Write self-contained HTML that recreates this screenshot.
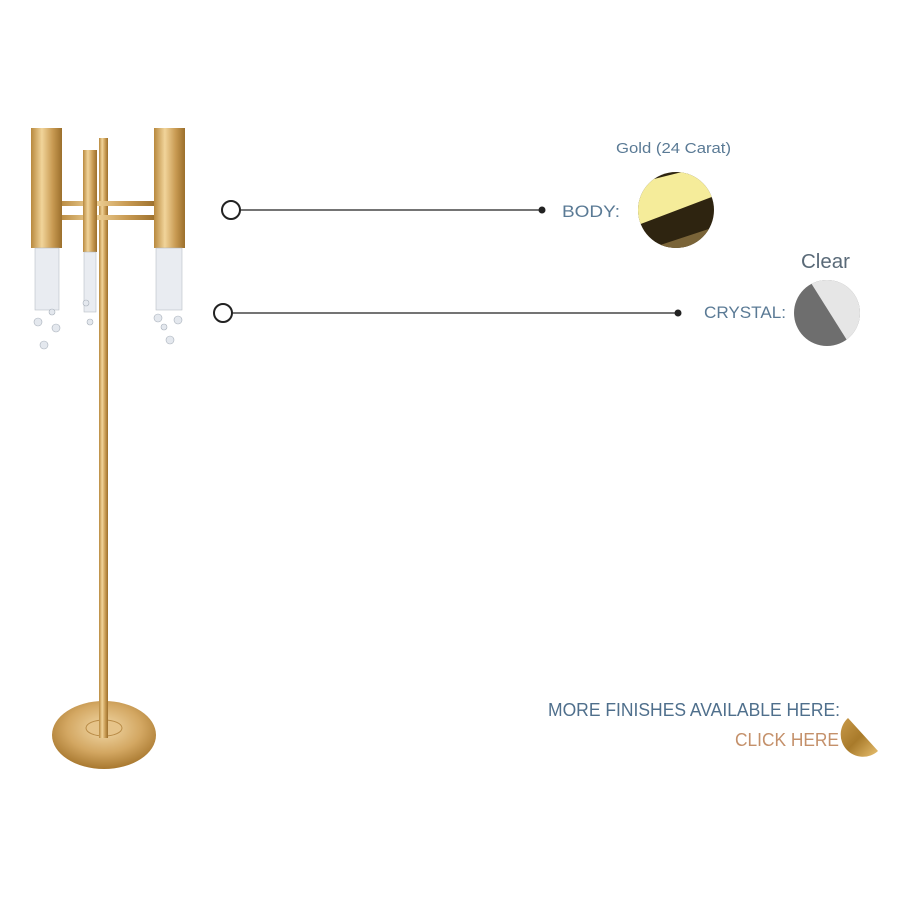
<!DOCTYPE html>
<html><head><style>body{margin:0;background:#fff}svg{display:block}text{font-family:"Liberation Sans",sans-serif}</style></head><body>
<svg width="900" height="900" viewBox="0 0 900 900">
<defs>
<linearGradient id="g" x1="0" x2="1"><stop offset="0" stop-color="#b8893e"/><stop offset=".35" stop-color="#f1d49a"/><stop offset=".7" stop-color="#c89a52"/><stop offset="1" stop-color="#9b6f2c"/></linearGradient>
<radialGradient id="b" cx=".5" cy=".4" r=".6"><stop offset="0" stop-color="#f2d9a8"/><stop offset=".6" stop-color="#d3a762"/><stop offset="1" stop-color="#a8782f"/></radialGradient>
<clipPath id="c1"><circle cx="676" cy="210" r="38"/></clipPath>
<clipPath id="c2"><circle cx="827" cy="313" r="33"/></clipPath>
<linearGradient id="cg" x1="0" y1="0" x2="1" y2="1"><stop offset="0" stop-color="#c99a4a"/><stop offset=".5" stop-color="#a87a2a"/><stop offset="1" stop-color="#e8c070"/></linearGradient>
</defs>
<ellipse cx="104" cy="735" rx="52" ry="34" fill="url(#b)"/>
<ellipse cx="104" cy="728" rx="18" ry="8" fill="#e6c48a" stroke="#b88a45"/>
<rect x="99" y="138" width="9" height="600" fill="url(#g)"/>
<rect x="60" y="201" width="96" height="5" fill="url(#g)"/>
<rect x="60" y="215" width="96" height="5" fill="url(#g)"/>
<rect x="31" y="128" width="31" height="120" fill="url(#g)"/>
<rect x="83" y="150" width="14" height="102" fill="url(#g)"/>
<rect x="154" y="128" width="31" height="120" fill="url(#g)"/>
<g fill="#e4e8ee" stroke="#a8b0ba" stroke-width=".6">
<rect x="35" y="248" width="24" height="62" opacity=".8"/>
<rect x="84" y="252" width="12" height="60" opacity=".8"/>
<rect x="156" y="248" width="26" height="62" opacity=".8"/>
<circle cx="44" cy="345" r="4"/><circle cx="38" cy="322" r="4"/><circle cx="56" cy="328" r="4"/><circle cx="52" cy="312" r="3"/>
<circle cx="90" cy="322" r="3"/><circle cx="86" cy="303" r="3"/>
<circle cx="170" cy="340" r="4"/><circle cx="158" cy="318" r="4"/><circle cx="178" cy="320" r="4"/><circle cx="164" cy="327" r="3"/>
</g>
<circle cx="231" cy="210" r="9" fill="#fff" stroke="#222" stroke-width="2"/>
<line x1="240" y1="210" x2="542" y2="210" stroke="#222" stroke-width="1.3"/>
<circle cx="542" cy="210" r="3.5" fill="#222"/>
<circle cx="223" cy="313" r="9" fill="#fff" stroke="#222" stroke-width="2"/>
<line x1="232" y1="313" x2="678" y2="313" stroke="#222" stroke-width="1.3"/>
<circle cx="678" cy="313" r="3.5" fill="#222"/>
<text x="616" y="153" font-size="15" fill="#5a7a95" textLength="115" lengthAdjust="spacingAndGlyphs">Gold (24 Carat)</text>
<text x="562" y="217" font-size="17" fill="#5a7a95" textLength="58" lengthAdjust="spacingAndGlyphs">BODY:</text>
<text x="801" y="268" font-size="20" fill="#5a6a78" textLength="49" lengthAdjust="spacingAndGlyphs">Clear</text>
<text x="704" y="318" font-size="17" fill="#5a7a95" textLength="82" lengthAdjust="spacingAndGlyphs">CRYSTAL:</text>
<g clip-path="url(#c1)">
<rect x="630" y="165" width="100" height="100" fill="#2e2410"/>
<polygon points="630,185 730,160 730,190 630,228" fill="#f5ec9a"/>
<polygon points="630,255 730,222 730,265 630,265" fill="#7a6438"/>
</g>
<g clip-path="url(#c2)">
<rect x="790" y="275" width="80" height="80" fill="#6e6e6e"/>
<polygon points="806,275 870,275 870,355 850,345" fill="#e6e6e6"/>
</g>
<text x="548" y="716" font-size="18" fill="#4f6f8c" textLength="292" lengthAdjust="spacingAndGlyphs">MORE FINISHES AVAILABLE HERE:</text>
<text x="735" y="746" font-size="18" fill="#c4906a" textLength="104" lengthAdjust="spacingAndGlyphs">CLICK HERE</text>
<path d="M848,718 L878,751 A22,22 0 0 1 848,718 Z" fill="url(#cg)"/>
</svg>
</body></html>
